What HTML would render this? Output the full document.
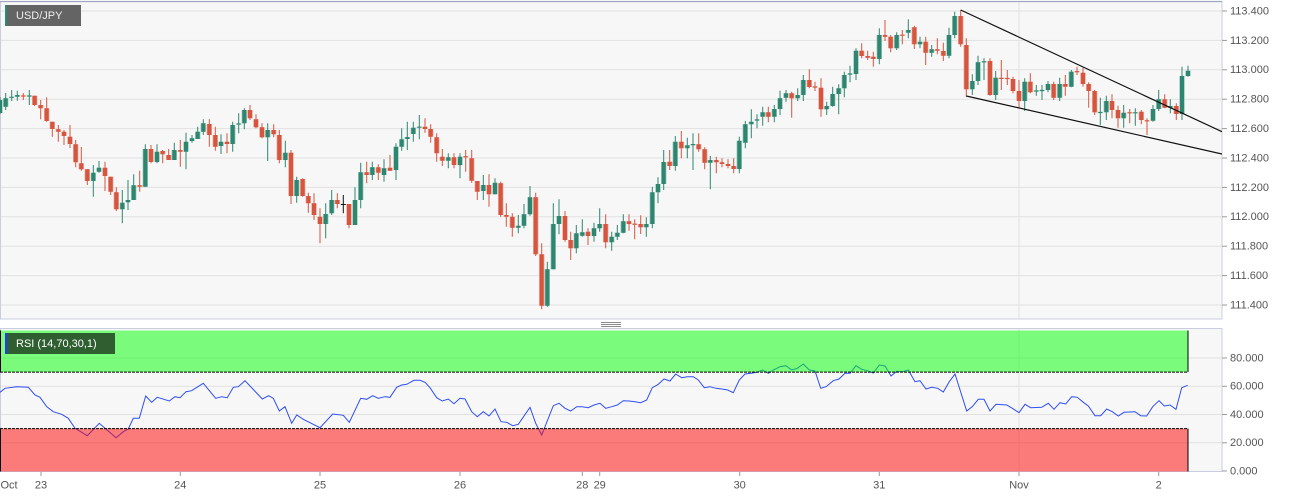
<!DOCTYPE html>
<html><head><meta charset="utf-8"><style>
html,body{margin:0;padding:0;background:#fff;}
svg{display:block;font-family:"Liberation Sans",Arial,sans-serif;}
</style></head><body>
<svg width="1299" height="498" viewBox="0 0 1299 498" xmlns="http://www.w3.org/2000/svg" xmlns:xlink="http://www.w3.org/1999/xlink">
<defs><clipPath id="cp"><rect x="0" y="2" width="1222" height="317"/></clipPath>
<clipPath id="cr"><rect x="0" y="329" width="1222" height="143"/></clipPath>
<path id="gb" d="M0 100V113M5.7 98.3V106.7M11.7 96.7V97.9M17.3 95V96.7M29.3 95.4V96.6M93.3 172.7V181M99 167.7V171.7M122.3 202.7V209.3M128 200V202.3M133.7 185.3V200M145.3 149V186.7M157 151.7V162M174.3 150V160M186 141.7V151.7M192 138.3V141M197.7 131.7V139M203.3 123.3V131.7M221 141.7V146M232.7 125V144M238.7 123.4V124.6M244.3 110V123.3M267.7 130V137.3M285.3 152.7V160M296.7 180V196M325.7 214V224M331.7 200V213.3M355 200V225M360.7 172.3V200M372.3 167.3V175M384 168.3V175M396 146.7V170M401.7 139.3V146.7M407.3 137V139M413.3 127.7V134M419.3 126.6V127.8M448.3 157.3V160.7M460 156.7V165M483.3 185V191M495 182.7V194.3M518.3 225.7V227.7M524 214.3V225.7M530 197.3V214.3M547.3 269.3V305.7M553.3 224V269.3M559 216V224M576.3 233.3V248.3M582.3 232.3V235.7M594 228.3V236M599.7 224V228.3M611.7 236.7V242.3M617.3 232.7V236.7M623.3 221.3V232.7M646.3 224V227.3M652.3 192.3V224M658 184V192.3M663.7 162V184M675.3 141.7V166M687.3 145.3V148.3M693 144V145.2M710.3 160V162.7M739.3 140.7V169M745.3 124.3V142.7M751.3 121.7V124.3M757 119.4V120.6M762.7 112.3V116.7M774.3 109V116.7M780 98.3V109M786 93.3V97.7M797.7 95V98.3M803.3 80V95M826.7 106V109.3M832.7 94V106M838.7 88.3V94M844.3 75V88.3M850 73.4V74.6M856 50.7V74M879.3 35V59M896.7 35V48.3M908.3 30V32.7M920 41.7V44.3M931.7 49.3V52.7M949 35V55.7M954.7 16V35M972.3 81V89.3M978 62.3V81M984 61.2V62.4M995.7 77.7V95M1024.7 81.7V101M1036.3 90.4V91.6M1042 89.9V91.1M1048 84V90M1059.7 84V97.7M1071.3 71.7V86.7M1100.3 111.9V113.1M1106.3 101V112.3M1123.7 112.7V118.3M1135.3 112.2V113.4M1153 109V120.7M1158.7 99.3V109M1170.3 106V107.7M1182 76V114M1188 70.7V76"/>
<path id="rb" d="M23.3 95.4V96.6M34.7 95.7V105M40.7 105V108.3M46.7 108.3V121M52.3 121.7V129M58.3 129.3V131.7M64 131.7V136M70 136.7V144M75.7 144.3V162.3M81.3 163.3V169.3M87.3 169.3V181M105 167.7V176M110.7 176.7V191.7M116.3 192.3V209.3M139.7 185.3V186.7M151 149V162M162.7 151V154.3M168.7 155V160M180.3 150V151.7M209.3 124V135M215.3 135V146.7M227 141.7V144M250 110V118.3M256 119.3V127.3M262 127.3V137.3M273.7 130V134.3M279.3 135V160M291 152.7V196M302.7 179V196M308.3 196V203.3M314 203.3V215M320 216.7V224M337.3 200V204M349 204V225M366.7 172.3V175M378.3 167.3V172.7M390 167.7V170.7M425 126.7V129M430.7 129V136.7M436.7 137.3V153.3M442.3 156.7V160.7M454 157.3V165M465.7 156.2V157.4M471.7 158.3V180.7M477.3 181V191.7M489 185V194.3M500.7 183.3V215M506.3 215V216.7M512.3 216.7V227.7M535.7 197.3V254.3M541.7 254.3V305.7M565 216V240M570.7 240V248.3M588 231.7V236M605.7 224V242.3M629 221.3V224M634.7 223.6V224.8M640.7 224V227.3M669.7 161.7V166M681.3 141.7V148.3M698.7 144.3V149.3M704.7 149.3V162.7M716.3 160V162.3M722 162.3V164M728 164V166M733.7 166V169M768.3 112.3V116.7M791.7 93.3V98.3M809.3 80V87M815 86.4V87.6M821 87.7V109.3M861.7 50.7V56M867.7 56V57.7M873.3 56.7V59M885 35V36.7M890.7 36.7V48.3M902.3 34.6V35.8M914.3 27.3V44.3M925.7 41.7V52.7M937.3 49.3V50.7M943.3 51V55.7M960.7 16V44.3M966.3 45V89.3M990 61V95M1001.3 77.7V79M1007.3 77.9V79.1M1013 79V91M1019 91V101M1030.3 81.7V92.3M1053.7 84V97.7M1065.3 84V86.7M1077 71.1V72.3M1083 72.7V84M1088.7 84V91M1094.7 91V112.3M1112 101V110M1118 110V118.3M1129.7 112.2V113.4M1141.3 111.7V120M1147 120.2V121.4M1164.7 99.3V107.7M1176.3 106V114"/>
</defs>
<rect width="1299" height="498" fill="#fff"/>
<!-- main panel -->
<rect x="0.5" y="1.5" width="1221.5" height="317.5" fill="#f7f7f7" stroke="#c8cee0" stroke-width="1"/>
<line x1="0" y1="1.5" x2="1222" y2="1.5" stroke="#a0a6bf" stroke-width="1.2"/>
<g stroke="#e1e1e1" stroke-width="1">
<line x1="1" y1="11" x2="1222" y2="11"/><line x1="1" y1="40.4" x2="1222" y2="40.4"/><line x1="1" y1="69.8" x2="1222" y2="69.8"/><line x1="1" y1="99.2" x2="1222" y2="99.2"/><line x1="1" y1="128.6" x2="1222" y2="128.6"/><line x1="1" y1="158" x2="1222" y2="158"/><line x1="1" y1="187.4" x2="1222" y2="187.4"/><line x1="1" y1="216.8" x2="1222" y2="216.8"/><line x1="1" y1="246.2" x2="1222" y2="246.2"/><line x1="1" y1="275.6" x2="1222" y2="275.6"/><line x1="1" y1="305" x2="1222" y2="305"/>
<line x1="1019" y1="2" x2="1019" y2="318"/>
</g>
<g stroke="#999" stroke-width="1">
<line x1="1222" y1="11" x2="1227" y2="11"/><line x1="1222" y1="40.4" x2="1227" y2="40.4"/><line x1="1222" y1="69.8" x2="1227" y2="69.8"/><line x1="1222" y1="99.2" x2="1227" y2="99.2"/><line x1="1222" y1="128.6" x2="1227" y2="128.6"/><line x1="1222" y1="158" x2="1227" y2="158"/><line x1="1222" y1="187.4" x2="1227" y2="187.4"/><line x1="1222" y1="216.8" x2="1227" y2="216.8"/><line x1="1222" y1="246.2" x2="1227" y2="246.2"/><line x1="1222" y1="275.6" x2="1227" y2="275.6"/><line x1="1222" y1="305" x2="1227" y2="305"/>
</g>
<g font-size="11" fill="#555" dominant-baseline="middle">
<text x="1230" y="11.5">113.400</text><text x="1230" y="40.9">113.200</text><text x="1230" y="70.3">113.000</text><text x="1230" y="99.7">112.800</text><text x="1230" y="129.1">112.600</text><text x="1230" y="158.5">112.400</text><text x="1230" y="187.9">112.200</text><text x="1230" y="217.3">112.000</text><text x="1230" y="246.7">111.800</text><text x="1230" y="276.1">111.600</text><text x="1230" y="305.5">111.400</text>
</g>
<g clip-path="url(#cp)" fill="none">
<!-- green wicks -->
<path stroke="#2e8670" stroke-width="1" d="M0 97V114M5.7 93V110M11.7 90V101M17.3 90.7V100.7M29.3 90V105M93.3 165V196.7M99 161V172.7M122.3 190V223.3M128 180V210M133.7 174.3V200M145.3 144.3V186.7M157 144.3V163.3M174.3 142.7V160M186 132.7V169.3M192 135V142.7M197.7 126.7V139M203.3 119.3V135M221 134.3V154M232.7 121.7V151.7M238.7 113.3V133.3M244.3 108.3V129.3M267.7 123.3V161M285.3 140.7V167.3M296.7 176.7V202.7M325.7 203.3V238.3M331.7 190V215M355 187.3V225M360.7 162.7V208.3M372.3 161.7V180M384 159.3V181.7M396 143.3V180M401.7 128.3V150.7M407.3 121.7V150M413.3 121.7V141.7M419.3 115V139.3M448.3 153.3V168.3M460 153.3V178.3M483.3 175V200M495 178.3V194.3M518.3 215V233.3M524 204V228.3M530 186V215.7M547.3 261.7V306.7M553.3 203.3V269.3M559 199.3V234.3M576.3 225V253.3M582.3 219.3V236.7M594 222.7V241.7M599.7 208.3V231.7M611.7 231.7V250.7M617.3 225V240M623.3 214.3V233.3M646.3 217.3V236.7M652.3 186.7V228.3M658 177.3V203.3M663.7 150V190M675.3 136V170.7M687.3 137.7V158.3M693 133.3V170M710.3 156V189.3M739.3 136.7V173.3M745.3 121V148.3M751.3 109.3V138.3M757 114.3V128.3M762.7 106.7V125.7M774.3 105V122.3M780 90.7V115M786 90V101.7M797.7 88.3V101M803.3 75V101M826.7 101.7V115M832.7 86.7V106.7M838.7 84.3V114.3M844.3 71.7V97.3M850 65.7V82.3M856 48.3V80M879.3 28.3V64.3M896.7 32.3V50M908.3 19.3V38.3M920 36.7V48.3M931.7 45V56.7M949 27.7V58.3M954.7 11.7V38.3M972.3 74.3V95M978 55.7V85M984 58.3V80M995.7 71V100M1024.7 78.3V111M1036.3 85V95.7M1042 85V100M1048 81V92.3M1059.7 77.7V101M1071.3 70V87.3M1100.3 97.7V125M1106.3 95.7V120M1123.7 105V127.7M1135.3 108.3V125.7M1153 105V121.7M1158.7 90V111M1170.3 99.3V113.3M1182 66.7V120M1188 65.7V76.7"/>
<!-- red wicks -->
<path stroke="#d6553f" stroke-width="1" d="M23.3 93V100M34.7 95.7V106M40.7 100V119.3M46.7 97.3V121.7M52.3 121.7V136.7M58.3 125V141.7M64 130V145M70 125V148M75.7 140V167.3M81.3 147V170.7M87.3 169V185M105 161.7V191M110.7 176.7V195M116.3 187.3V211M139.7 170.7V191.7M151 145V163.3M162.7 150V163.3M168.7 149V160M180.3 140V166.7M209.3 119.3V146.7M215.3 126.7V150.7M227 133.3V153.3M250 105V120M256 114.3V128.3M262 123.3V138.3M273.7 124.3V137.3M279.3 130V163.3M291 150V204M302.7 178.3V196.7M308.3 192.7V212.7M314 193.3V220M320 208.3V243.3M337.3 193.3V208.3M349 204V228.3M366.7 161.7V183.3M378.3 164.3V180M390 155V171M425 118.3V132.7M430.7 124.3V142.7M436.7 133.3V161.7M442.3 149V166M454 153.3V168.3M465.7 150V171.7M471.7 150V182.7M477.3 181V200M489 174.3V206.7M500.7 181.7V216.7M506.3 203.3V226.7M512.3 213.3V236.7M535.7 192.7V256M541.7 243.3V309.3M565 211V241.7M570.7 231.7V260M588 228.3V245M605.7 214.3V248.3M629 214.3V230.7M634.7 219.3V239.3M640.7 215.3V234M669.7 150V170M681.3 131V158.3M698.7 133.3V151.7M704.7 147.3V169.3M716.3 156.7V173.3M722 158.3V167.3M728 159.3V168.3M733.7 158.3V173.3M768.3 106.7V122.3M791.7 91.7V117.7M809.3 69.3V88.3M815 81.7V91M821 78.3V116.7M861.7 43.3V58.3M867.7 50.7V60M873.3 51.7V66.7M885 20V41M890.7 35V52.3M902.3 30V44.3M914.3 25.7V49M925.7 36.7V65M937.3 38.3V54.3M943.3 42.7V61M960.7 10V46.7M966.3 38.3V96.7M990 58.3V95.7M1001.3 60V90M1007.3 70V85M1013 76.7V93.3M1019 80V108.3M1030.3 73.3V93.3M1053.7 81.7V100M1065.3 75V95.7M1077 66.7V75M1083 67.7V86.7M1088.7 82.3V107.7M1094.7 90V115M1112 94.3V118.3M1118 105.7V127.7M1129.7 109V123.3M1141.3 110V124.3M1147 118.3V135M1164.7 94.3V108.3M1176.3 103.3V120"/>
<!-- bodies: halo then solid -->
<use href="#gb" xlink:href="#gb" stroke="#9cc9bc" stroke-width="5.4"/>
<use href="#gb" xlink:href="#gb" stroke="#2e8670" stroke-width="4"/>
<use href="#rb" xlink:href="#rb" stroke="#eba79c" stroke-width="5.4"/>
<use href="#rb" xlink:href="#rb" stroke="#d6553f" stroke-width="4"/>
<path stroke="#111" stroke-width="1" d="M343.3 195V213.3M340.8 204.5H345.8"/>
<!-- trendlines -->
<path stroke="#111" stroke-width="1.2" d="M960.7 10L1222 131.7M966.3 96L1222 154"/>
</g>
<!-- label USD/JPY -->
<rect x="5" y="5" width="76" height="21" fill="#646464"/>
<rect x="5" y="5" width="2" height="21" fill="#2a8a70"/>
<text x="16" y="16" font-size="11" fill="#eee" dominant-baseline="middle">USD/JPY</text>
<!-- handle -->
<g stroke="#8a8a8a" stroke-width="1"><line x1="601" y1="322.5" x2="621" y2="322.5"/><line x1="601" y1="324.5" x2="621" y2="324.5"/><line x1="601" y1="326.5" x2="621" y2="326.5"/></g>
<!-- RSI panel -->
<rect x="0.5" y="328.5" width="1221.5" height="143" fill="#f7f7f7" stroke="#c8cee0" stroke-width="1"/>
<g stroke="#e1e1e1" stroke-width="1">
<line x1="1" y1="358" x2="1222" y2="358"/><line x1="1" y1="386.3" x2="1222" y2="386.3"/><line x1="1" y1="414.5" x2="1222" y2="414.5"/><line x1="1" y1="442.8" x2="1222" y2="442.8"/>
<line x1="1019" y1="329" x2="1019" y2="471"/>
</g>
<g clip-path="url(#cr)">
<polyline fill="none" stroke="#2f4ff2" stroke-width="1" points="0,392.3 5,388.3 16.7,386.7 28.3,387.3 35,395 40,397.3 46.7,406.7 53.3,411.7 61.7,414.3 68.3,418.3 75,428.3 87.3,435.7 99.3,423.3 116,437.7 123.3,431.7 128.3,429 133.3,418.3 139.3,418.3 145.7,396 151.7,402.3 157.3,397.3 169.3,401 175,396.7 180,397.7 186,391.7 191.7,390.7 203.3,383.3 215.7,398.3 221.7,396.7 227.3,397.7 233.3,387.3 238.3,386.7 245,380.7 262.3,399 268.7,395.7 273.3,398.3 279.3,411 285,406.7 291.7,423.3 296.7,415 303.3,419.3 320,427.7 332.7,414 343.3,415.3 349.3,422.3 360.7,398.3 366.7,399.3 372.7,395.7 378.3,398.3 385,396.7 390,397.3 396.7,387.3 401.7,385 406.7,384.3 414,380.3 420,380.3 425,382.3 430,387.7 436.7,397.7 442.3,401 448.3,399 454,403.7 460,398.3 465,399 471.7,411.7 477.3,416.7 483.3,411.7 489,416 495,409 501,421.7 506.7,422.3 512.7,425.7 518.3,424.3 530,407.3 535.7,423.3 541.7,435 553.3,405.7 559,403.3 565,408.3 570.7,411 576.7,406.7 582.3,406.7 588.3,407.7 594,405 600,403.3 605.7,408.3 611.7,406.7 617.3,405 623.3,400.7 629,401 635,401.7 640.7,402.7 646.7,400 652.3,387.7 658.3,384.3 664,379 670,381 675.7,374 681.7,377.7 687.3,376.7 693.3,376.7 698.3,380 704.3,387.7 710,386.7 716,388.3 721.7,389 727.7,390 733.3,392.7 739.3,380 745,374 751,373.3 756.7,372.3 762.7,370 768.3,373.3 773.3,370 780,366.7 786,365.7 791.7,370 797.3,368.3 803.3,364 809.3,370 815,371 820.7,388.3 826,386.7 833.3,380.7 839,379 845,373.3 850,373.3 856,365.7 861.7,369.3 867.3,370.7 873.3,373 879.3,365 885,366 891,376 896.7,371.3 902.7,371.7 908.3,370 915,381.7 920,380.7 926,389 931.7,387.3 937.7,388.3 943.3,392 949.3,381.7 955,374 966.7,411 972.3,406.7 978.3,399.3 984,399.3 990,411 996,404.3 1006.7,405 1012.3,408.3 1019,412.7 1025,404.3 1030.7,407.7 1041.7,407.3 1048.3,403.3 1054,409.3 1060,402.7 1065.7,404 1071.7,396.7 1077.3,397.3 1083.3,402.3 1088.3,406 1095,415.7 1100.7,415.7 1106.7,409 1112.3,411.7 1118.3,416 1124,412.3 1135,411.7 1140.7,415.7 1146.7,416 1152.7,406.7 1159,400.7 1164.3,406 1170,405 1176,409.3 1181.7,387.7 1187.7,385.3"/>
<rect x="0" y="330.5" width="1188" height="41.6" fill="rgba(0,255,0,0.5)"/>
<rect x="0" y="428.6" width="1188" height="42.9" fill="rgba(255,0,0,0.5)"/>
<g stroke="#000" stroke-width="1" fill="none">
<line x1="0.5" y1="330.5" x2="0.5" y2="372.1"/><line x1="1188" y1="330.5" x2="1188" y2="372.1"/>
<line x1="0.5" y1="428.6" x2="0.5" y2="471.5"/><line x1="1188" y1="428.6" x2="1188" y2="471.5"/>
<line x1="0" y1="372.1" x2="1188" y2="372.1" stroke-dasharray="3 1"/>
<line x1="0" y1="428.6" x2="1188" y2="428.6" stroke-dasharray="3 1"/>
</g>
</g>
<rect x="5" y="333" width="110" height="21" fill="#2f5f30"/>
<rect x="5" y="333" width="2" height="21" fill="#1d3cff"/>
<text x="16" y="344" font-size="11" fill="#fff" dominant-baseline="middle">RSI (14,70,30,1)</text>
<g stroke="#999" stroke-width="1">
<line x1="1222" y1="358" x2="1227" y2="358"/><line x1="1222" y1="386.3" x2="1227" y2="386.3"/><line x1="1222" y1="414.5" x2="1227" y2="414.5"/><line x1="1222" y1="442.8" x2="1227" y2="442.8"/><line x1="1222" y1="471" x2="1227" y2="471"/>
</g>
<g font-size="11" fill="#555" dominant-baseline="middle">
<text x="1230" y="358.5">80.000</text><text x="1230" y="386.8">60.000</text><text x="1230" y="415">40.000</text><text x="1230" y="443.3">20.000</text><text x="1230" y="471.5">0.000</text>
</g>
<!-- x axis -->
<g stroke="#999" stroke-width="1">
<line x1="41" y1="472" x2="41" y2="476"/><line x1="180.3" y1="472" x2="180.3" y2="476"/><line x1="320" y1="472" x2="320" y2="476"/><line x1="460" y1="472" x2="460" y2="476"/><line x1="582.3" y1="472" x2="582.3" y2="476"/><line x1="599.7" y1="472" x2="599.7" y2="476"/><line x1="739.7" y1="472" x2="739.7" y2="476"/><line x1="879.3" y1="472" x2="879.3" y2="476"/><line x1="1019" y1="472" x2="1019" y2="476"/><line x1="1158.7" y1="472" x2="1158.7" y2="476"/>
</g>
<g font-size="11" fill="#555" dominant-baseline="middle" text-anchor="middle">
<text x="9" y="485.5">Oct</text><text x="41" y="485.5">23</text><text x="180.3" y="485.5">24</text><text x="320" y="485.5">25</text><text x="460" y="485.5">26</text><text x="582.3" y="485.5">28</text><text x="599.7" y="485.5">29</text><text x="739.7" y="485.5">30</text><text x="879.3" y="485.5">31</text><text x="1019" y="485.5">Nov</text><text x="1158.7" y="485.5">2</text>
</g>
</svg>
</body></html>
